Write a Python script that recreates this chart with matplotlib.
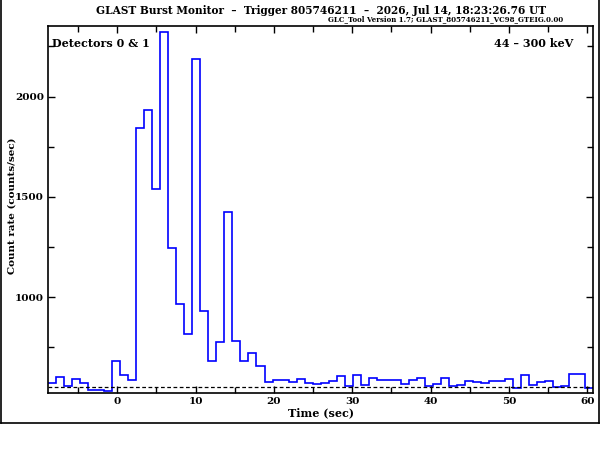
import numpy as np
import matplotlib
matplotlib.use("Agg")
import matplotlib.pyplot as plt
from matplotlib.lines import Line2D
from matplotlib.ticker import MultipleLocator

# light curve, 1.024 s bins, detectors 0 & 1, 44-300 keV
t_start = -8.85
bin_width = 1.024
rates = [573, 601, 556, 591, 573, 536, 536, 531, 681, 613,
         586, 1842, 1934, 1538, 2321, 1244, 965, 816, 2190, 930,
         681, 776, 1427, 781, 681, 721, 657, 576, 586, 586,
         576, 591, 571, 566, 571, 583, 606, 556, 611, 561,
         596, 586, 586, 586, 566, 586, 596, 556, 566, 596,
         556, 561, 583, 576, 571, 583, 583, 591, 546, 611,
         561, 576, 583, 551, 556, 616, 616, 546]
background = 551
edges = t_start + bin_width * np.arange(len(rates) + 1)

title = "GLAST Burst Monitor  \u2013  Trigger 805746211  \u2013  2026, Jul 14, 18:23:26.76 UT"
subtitle = "GLC_Tool Version 1.7; GLAST_805746211_VC98_GTEIG.0.00"
det_label = "Detectors 0 & 1"
energy_label = "44 \u2013 300 keV"

plt.rcParams['font.family'] = ['DejaVu Serif']

fig = plt.figure(figsize=(6, 4.5), dpi=100)
ax = fig.add_axes([48/600, 1 - 393/450, (593.3 - 48)/600, (393 - 26)/450])

ax.stairs(rates, edges, baseline=None, color='#0000ff', lw=1.2)
ax.axhline(background, color='black', lw=0.9, ls=(0, (3, 2)))

ax.set_xlim(edges[0], edges[-1])
ax.set_ylim(523, 2352)
ax.xaxis.set_major_locator(MultipleLocator(10))
ax.xaxis.set_minor_locator(MultipleLocator(5))
ax.yaxis.set_major_locator(MultipleLocator(500))
ax.yaxis.set_minor_locator(MultipleLocator(250))
ax.tick_params(which='both', direction='in', top=True, right=True,
               width=1, labelsize=7.5, pad=3)
ax.tick_params(which='major', length=5)
ax.tick_params(which='minor', length=4)
for lab in ax.get_xticklabels() + ax.get_yticklabels():
    lab.set_fontweight('bold')
for s in ax.spines.values():
    s.set_linewidth(1.2)

ax.set_xlabel("Time (sec)", fontsize=8, fontweight='bold', labelpad=1)
ax.set_ylabel("Count rate (counts/sec)", fontsize=7.5, fontweight='bold')
ax.yaxis.set_label_coords((16.5 - 48) / 545.3, 0.51)

ax.text(0.008, 0.952, det_label, transform=ax.transAxes, fontsize=8,
        fontweight='bold', ha='left', va='center')
ax.text(0.963, 0.952, energy_label, transform=ax.transAxes, fontsize=8,
        fontweight='bold', ha='right', va='center')

fig.text(321/600, 1 - 10/450, title, fontsize=7.6, fontweight='bold',
         ha='center', va='center')
fig.text(563/600, 1 - 19.5/450, subtitle, fontsize=5, fontweight='bold',
         ha='right', va='center')

# outer frame
yb = 1 - 423/450
for xs, ys in [([0.001, 0.001], [yb, 1]), ([0.998, 0.998], [yb, 1]), ([0.001, 0.998], [yb, yb])]:
    fig.add_artist(Line2D(xs, ys, color='black', lw=1.2, transform=fig.transFigure))

fig.savefig("out.png", dpi=100)
